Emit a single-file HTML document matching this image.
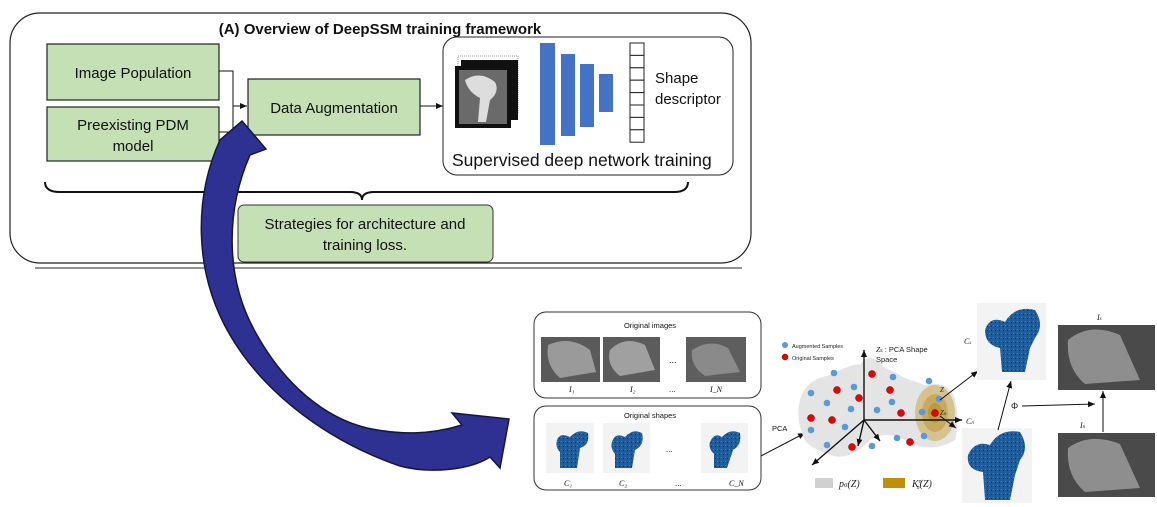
<!DOCTYPE html>
<html><head><meta charset="utf-8"><style>
html,body{margin:0;padding:0;background:#fff;}
svg{display:block;font-family:"Liberation Sans",sans-serif;}
</style></head><body>
<svg width="1157" height="507" viewBox="0 0 1157 507" xmlns="http://www.w3.org/2000/svg">
<defs>
<marker id="ah" markerWidth="8" markerHeight="8" refX="7" refY="4" orient="auto" markerUnits="userSpaceOnUse"><path d="M0,1 L7,4 L0,7 Z" fill="#111"/></marker>
<pattern id="fem" width="4" height="4" patternUnits="userSpaceOnUse"><rect width="4" height="4" fill="#1f5c9c"/><rect x="1" y="1" width="1" height="1" fill="#3f9a6a"/><rect x="3" y="2" width="1" height="1" fill="#0d2f66"/></pattern>
</defs>
<rect x="10" y="13" width="741" height="250" rx="30" fill="#fff" stroke="#222" stroke-width="1.2"/>
<line x1="35" y1="268" x2="742" y2="268" stroke="#555" stroke-width="1.2"/>
<text x="380" y="34" font-size="15" font-weight="bold" text-anchor="middle" fill="#111">(A) Overview of DeepSSM training framework</text>
<rect x="47" y="44" width="172" height="56" fill="#c5e0b4" stroke="#222" stroke-width="1.2"/>
<text x="133" y="78" font-size="15" text-anchor="middle" fill="#111">Image Population</text>
<rect x="47" y="107" width="172" height="54" fill="#c5e0b4" stroke="#222" stroke-width="1.2"/>
<text x="133" y="130" font-size="15" text-anchor="middle" fill="#111">Preexisting PDM</text>
<text x="133" y="151" font-size="15" text-anchor="middle" fill="#111">model</text>
<rect x="248" y="79" width="172" height="56" fill="#c5e0b4" stroke="#222" stroke-width="1.2"/>
<text x="334" y="113" font-size="15" text-anchor="middle" fill="#111">Data Augmentation</text>
<path d="M219,71 H233 V132 H219" fill="none" stroke="#111" stroke-width="1"/>
<line x1="233" y1="106" x2="247" y2="106" stroke="#111" stroke-width="1" marker-end="url(#ah)"/>
<line x1="420" y1="106" x2="443" y2="106" stroke="#111" stroke-width="1" marker-end="url(#ah)"/>
<rect x="443" y="37" width="290" height="138" rx="14" fill="#fff" stroke="#222" stroke-width="1"/>
<rect x="458" y="56" width="60" height="58" fill="none" stroke="#999" stroke-dasharray="1,1"/>
<rect x="461" y="60" width="57" height="60" fill="#111"/>
<rect x="455" y="66" width="56" height="62" fill="#111"/>
<rect x="459" y="70" width="48" height="54" fill="#6a6a6a"/>
<path d="M465,80 Q480,70 495,82 Q500,92 490,100 L486,122 L478,122 L480,98 Q468,92 465,80Z" fill="#ddd"/>
<rect x="540" y="43" width="15" height="102" fill="#4472c4"/>
<rect x="561" y="54" width="14" height="82" fill="#4472c4"/>
<rect x="580" y="64" width="14" height="63" fill="#4472c4"/>
<rect x="599" y="74" width="14" height="38" fill="#4472c4"/>
<g fill="#fff" stroke="#222" stroke-width="1">
<rect x="630" y="43" width="14" height="12.4"/><rect x="630" y="55.4" width="14" height="12.4"/><rect x="630" y="67.8" width="14" height="12.4"/><rect x="630" y="80.2" width="14" height="12.4"/><rect x="630" y="92.6" width="14" height="12.4"/><rect x="630" y="105" width="14" height="12.4"/><rect x="630" y="117.4" width="14" height="12.4"/><rect x="630" y="129.8" width="14" height="12.4"/>
</g>
<text x="655" y="83" font-size="15" fill="#111">Shape</text>
<text x="655" y="104" font-size="15" fill="#111">descriptor</text>
<text x="452" y="166" font-size="17.5" fill="#111">Supervised deep network training</text>
<path d="M45,182 Q45,192 60,192 H350 Q362,192 362,200 Q362,192 374,192 H674 Q688,192 688,182" fill="none" stroke="#111" stroke-width="2"/>
<rect x="238" y="205" width="255" height="57" rx="6" fill="#c5e0b4" stroke="#333" stroke-width="1"/>
<text x="365" y="229" font-size="15" text-anchor="middle" fill="#111">Strategies for architecture and</text>
<text x="365" y="250" font-size="15" text-anchor="middle" fill="#111">training loss.</text>
<!-- big arrow -->
<path d="M242,121 L266,149 L250,155 C228,205 222,275 257,335 C285,385 325,418 367,428 C400,435 430,435 462,425 L452,413 L509,419 L500,468 L490,457 C470,470 430,474 400,466 C330,442 265,395 230,335 C192,270 195,195 220,140 Z" fill="#2e3192" stroke="#14163f" stroke-width="1.5"/>
<rect x="534" y="312" width="227" height="86" rx="12" fill="#fff" stroke="#333" stroke-width="1"/>
<text x="650" y="328" font-size="7.5" text-anchor="middle" fill="#111">Original images</text>
<g>
<rect x="541" y="337" width="59" height="45" fill="#5a5a5a"/><path d="M548,345 Q570,335 590,350 L596,372 L560,378 Q545,365 548,345Z" fill="#9a9a9a"/>
<rect x="603" y="337" width="57" height="45" fill="#5c5c5c"/><path d="M610,350 Q625,335 645,345 L655,370 L620,376 Q606,365 610,350Z" fill="#a0a0a0"/>
<rect x="686" y="337" width="60" height="45" fill="#5e5e5e"/><path d="M692,350 Q710,338 728,348 L740,372 L705,376 Q690,366 692,350Z" fill="#8a8a8a"/>
</g>
<text x="669" y="363" font-size="9" fill="#111">...</text>
<text x="569" y="392" font-size="8" font-style="italic" font-family="Liberation Serif" fill="#111">I₁</text>
<text x="630" y="392" font-size="8" font-style="italic" font-family="Liberation Serif" fill="#111">I₂</text>
<text x="669" y="392" font-size="8" fill="#111">...</text>
<text x="710" y="392" font-size="8" font-style="italic" font-family="Liberation Serif" fill="#111">I_N</text>
<rect x="534" y="406" width="227" height="84" rx="12" fill="#fff" stroke="#333" stroke-width="1"/>
<text x="650" y="418" font-size="7.5" text-anchor="middle" fill="#111">Original shapes</text>
<g>
<rect x="546" y="423" width="48" height="50" fill="#f3f3f3"/>
<rect x="603" y="423" width="47" height="50" fill="#f3f3f3"/>
<rect x="701" y="423" width="47" height="50" fill="#f3f3f3"/>
<path d="M557,440 Q560,432 570,437 Q578,428 588,433 Q590,445 580,448 L577,468 L560,468 L560,452 Q555,447 557,440Z" fill="url(#fem)"/>
<path d="M612,442 Q615,432 625,437 Q633,428 642,433 Q645,445 635,450 L632,468 L615,468 L615,454 Q610,448 612,442Z" fill="url(#fem)"/>
<path d="M710,442 Q714,432 722,437 Q730,428 740,433 Q742,445 733,450 L727,468 L714,468 L714,454 Q708,448 710,442Z" fill="url(#fem)"/>
</g>
<text x="666" y="452" font-size="8" fill="#111">...</text>
<text x="564" y="486" font-size="8" font-style="italic" font-family="Liberation Serif" fill="#111">C₁</text>
<text x="619" y="486" font-size="8" font-style="italic" font-family="Liberation Serif" fill="#111">C₂</text>
<text x="675" y="486" font-size="8" fill="#111">...</text>
<text x="729" y="486" font-size="8" font-style="italic" font-family="Liberation Serif" fill="#111">C_N</text>
<text x="772" y="431" font-size="7.5" fill="#111">PCA</text>
<line x1="761" y1="456" x2="805" y2="433" stroke="#111" stroke-width="1" marker-end="url(#ah)"/>
<path d="M800,400 Q805,380 830,375 Q855,362 860,365 Q870,350 885,368 Q895,372 905,378 L925,385 Q950,380 955,400 Q960,420 955,440 Q930,455 905,440 Q885,430 870,440 Q850,462 830,455 Q810,448 805,440 Q795,420 800,400Z" fill="#e4e4e4"/>
<ellipse cx="935" cy="413" rx="20" ry="28" fill="#c9a64b" opacity="0.55"/>
<ellipse cx="935" cy="413" rx="13" ry="19" fill="#c29a3a" opacity="0.6"/>
<ellipse cx="935" cy="413" rx="7" ry="10" fill="#b88f2a" opacity="0.6"/>
<g stroke="#111" stroke-width="1.4" fill="none">
<line x1="864" y1="420" x2="864" y2="350" marker-end="url(#ah)"/>
<line x1="864" y1="420" x2="962" y2="420" marker-end="url(#ah)"/>
<line x1="864" y1="420" x2="812" y2="465" marker-end="url(#ah)"/>
<line x1="864" y1="420" x2="858" y2="446" marker-end="url(#ah)"/>
<line x1="864" y1="420" x2="880" y2="441" marker-end="url(#ah)"/>
</g>
<g fill="#5b9bd5">
<circle cx="785" cy="345" r="3"/>
<circle cx="834" cy="373" r="3.3"/><circle cx="811" cy="393" r="3.3"/><circle cx="827" cy="403" r="3.3"/><circle cx="851" cy="409" r="3.3"/><circle cx="854" cy="387" r="3.3"/><circle cx="893" cy="377" r="3.3"/><circle cx="892" cy="402" r="3.3"/><circle cx="877" cy="410" r="3.3"/><circle cx="929" cy="381" r="3.3"/><circle cx="922" cy="412" r="3.3"/><circle cx="939" cy="399" r="3.3"/><circle cx="811" cy="430" r="3.3"/><circle cx="845" cy="427" r="3.3"/><circle cx="827" cy="445" r="3.3"/><circle cx="872" cy="446" r="3.3"/><circle cx="897" cy="438" r="3.3"/><circle cx="924" cy="436" r="3.3"/>
</g>
<g fill="#e00" stroke="#600" stroke-width="0.5">
<circle cx="785" cy="357" r="3"/>
<circle cx="837" cy="390" r="3.5"/><circle cx="859" cy="398" r="3.5"/><circle cx="872" cy="374" r="3.5"/><circle cx="890" cy="390" r="3.5"/><circle cx="811" cy="418" r="3.5"/><circle cx="832" cy="420" r="3.5"/><circle cx="901" cy="413" r="3.5"/><circle cx="852" cy="447" r="3.5"/><circle cx="910" cy="442" r="3.5"/><circle cx="935" cy="413" r="3.5"/>
</g>
<text x="792" y="348" font-size="5.5" fill="#222">Augmented Samples</text>
<text x="792" y="360" font-size="5.5" fill="#222">Original Samples</text>
<text x="876" y="352" font-size="7.5" fill="#222"><tspan font-style="italic" font-family="Liberation Serif">Z</tspan><tspan font-size="5">s</tspan> : PCA Shape</text>
<text x="876" y="362" font-size="7.5" fill="#222">Space</text>
<text x="940" y="392" font-size="7" font-style="italic" font-family="Liberation Serif" fill="#222">Z</text>
<text x="940" y="415" font-size="7" font-style="italic" font-family="Liberation Serif" fill="#222">Z<tspan font-size="5">n</tspan></text>
<text x="966" y="424" font-size="8" font-style="italic" font-family="Liberation Serif" fill="#222">C<tspan font-size="5">n</tspan></text>
<line x1="940" y1="400" x2="978" y2="371" stroke="#111" stroke-width="1" marker-end="url(#ah)"/>
<line x1="940" y1="416" x2="956" y2="428" stroke="#111" stroke-width="1" marker-end="url(#ah)"/>
<rect x="815" y="478" width="18" height="10" fill="#d0d0d0"/>
<text x="839" y="487" font-size="10" font-style="italic" font-family="Liberation Serif" fill="#222">p<tspan font-size="7">σ</tspan>(Z)</text>
<rect x="883" y="478" width="22" height="10" fill="#bf9000"/>
<text x="912" y="487" font-size="10" font-style="italic" font-family="Liberation Serif" fill="#222">K<tspan font-size="6" dy="-4">σ</tspan><tspan font-size="6" dx="-5" dy="6">n</tspan><tspan dy="-2">(Z)</tspan></text>
<rect x="977" y="303" width="69" height="77" fill="#f3f3f3"/>
<path d="M985,330 Q990,315 1005,322 Q1015,305 1035,310 Q1045,325 1035,338 L1030,348 L1025,372 L1002,372 L1000,348 Q985,345 985,330Z" fill="url(#fem)"/>
<text x="964" y="344" font-size="8" font-style="italic" font-family="Liberation Serif" fill="#222">C<tspan font-size="5">s</tspan></text>
<rect x="962" y="428" width="70" height="75" fill="#f3f3f3"/>
<path d="M968,455 Q975,440 990,445 Q1000,428 1020,432 Q1030,448 1020,460 L1015,475 L1010,500 L985,500 L983,472 Q966,470 968,455Z" fill="url(#fem)"/>
<rect x="1058" y="325" width="97" height="65" fill="#4a4a4a"/>
<path d="M1068,340 Q1090,322 1120,335 L1140,380 L1085,384 Q1066,368 1068,340Z" fill="#8e8e8e"/>
<rect x="1058" y="433" width="97" height="64" fill="#4a4a4a"/>
<path d="M1068,448 Q1090,432 1120,444 L1140,488 L1085,492 Q1066,476 1068,448Z" fill="#8e8e8e"/>
<text x="1097" y="320" font-size="8" font-style="italic" font-family="Liberation Serif" fill="#222">I<tspan font-size="5">s</tspan></text>
<text x="1080" y="428" font-size="8" font-style="italic" font-family="Liberation Serif" fill="#222">I<tspan font-size="5">n</tspan></text>
<text x="1011" y="409" font-size="9" fill="#222">Φ</text>
<line x1="998" y1="430" x2="1011" y2="381" stroke="#111" stroke-width="1" marker-end="url(#ah)"/>
<line x1="1022" y1="406" x2="1095" y2="404" stroke="#111" stroke-width="1" marker-end="url(#ah)"/>
<line x1="1103" y1="432" x2="1103" y2="391" stroke="#111" stroke-width="1" marker-end="url(#ah)"/>
</svg>
</body></html>
